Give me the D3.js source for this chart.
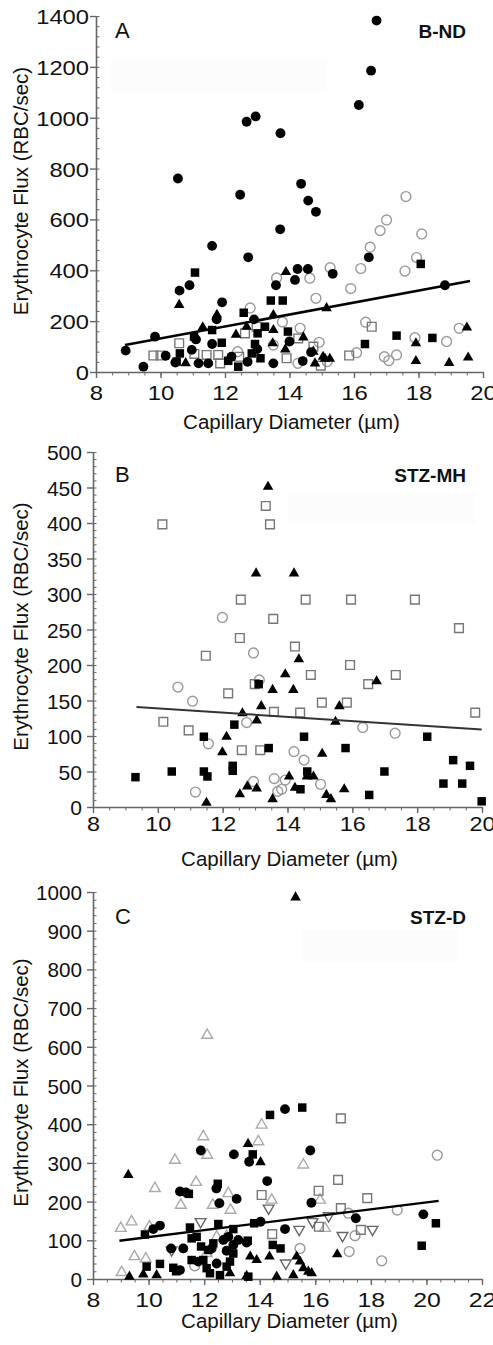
<!DOCTYPE html>
<html>
<head>
<meta charset="utf-8">
<script src="https://cdn.jsdelivr.net/npm/d3@7"></script>
<style>
  body { margin: 0; background: #fff; }
  svg text { font-family: "Liberation Sans", Arial, sans-serif; fill: #111; }
</style>
</head>
<body>
<div id="chart"></div>
<script>
// ---- data: [capillary diameter (um), flux (RBC/sec)] ----

// Panel A  (B-ND)
const A_filledCircles = [[8.92,84],[9.47,21],[9.83,139],[10.16,64],[10.46,37],[10.54,761],[10.59,320],[10.9,341],[10.97,87],[11.1,128],[11.18,34],[11.48,34],[11.6,110],[11.6,496],[11.74,207],[11.91,274],[12.2,60],[12.47,697],[12.67,984],[12.7,40],[12.72,451],[12.9,207],[12.95,1005],[13.0,90],[13.5,34],[13.58,341],[13.71,561],[13.72,939],[14.0,120],[14.17,362],[14.25,405],[14.36,740],[14.41,43],[14.57,405],[14.58,674],[14.67,78],[14.82,630],[15.34,386],[16.15,1050],[16.46,451],[16.53,1185],[16.7,1382],[18.82,341]];
const A_filledSquares = [[10.5,41],[10.6,73],[11.07,391],[11.04,139],[11.6,165],[11.9,115],[12.1,44],[12.41,21],[12.58,233],[12.83,73],[12.93,110],[13.01,152],[13.1,54],[13.24,178],[13.42,281],[13.79,281],[13.95,159],[16.34,110],[17.32,143],[18.07,425],[18.43,134]];
const A_filledTriangles = [[10.58,264],[10.78,35],[11.31,176],[11.75,225],[12.34,147],[12.67,178],[13.48,113],[13.5,224],[13.5,165],[13.87,89],[13.89,393],[14.43,136],[14.74,80],[14.79,34],[15.04,60],[15.15,251],[15.1,52],[15.25,52],[17.92,113],[17.92,43],[18.95,36],[19.5,175],[19.54,57]];
const A_openCircles = [[12.39,80],[12.78,252],[13.5,106],[13.6,370],[13.78,197],[14.26,34],[14.33,172],[14.63,369],[14.82,290],[14.92,117],[15.17,41],[15.26,410],[15.9,328],[16.08,76],[16.21,407],[16.36,196],[16.5,491],[16.81,556],[16.94,60],[17.01,598],[17.08,45],[17.32,67],[17.58,397],[17.61,690],[17.89,135],[17.94,450],[18.1,543],[18.87,120],[19.26,172]];
const A_openSquares = [[9.78,65],[10.0,65],[10.58,113],[11.05,71],[11.43,67],[11.79,67],[11.85,34],[12.44,60],[12.62,152],[12.98,178],[13.91,54],[14.27,132],[14.74,100],[14.97,25],[15.85,65],[16.55,178]];
const A_fit = { slope: 23.5, intercept: -103, from: 8.9, to: 19.6 };

// Panel B  (STZ-MH)
const B_filledSquares = [[9.31,42],[10.43,50],[11.42,99],[11.42,50],[11.53,43],[12.31,58],[12.31,51],[12.36,116],[13.11,173],[13.42,83],[14.4,25],[14.51,99],[14.61,50],[15.79,83],[16.52,17],[16.99,50],[18.31,99],[18.81,33],[19.11,66],[19.39,33],[19.63,58],[19.99,8]];
const B_filledTriangles = [[11.5,6],[11.99,77],[12.12,99],[12.53,18],[12.61,132],[12.76,29],[13.03,329],[13.05,26],[13.05,122],[13.19,142],[13.4,451],[13.54,11],[13.54,165],[13.93,187],[14.05,43],[14.18,165],[14.2,329],[14.23,27],[14.35,208],[14.6,43],[14.8,43],[15.07,75],[15.2,17],[15.34,11],[15.48,120],[15.6,142],[15.75,25],[16.75,177]];
const B_openSquares = [[10.14,398],[10.17,120],[10.95,108],[11.48,213],[12.17,160],[12.53,238],[12.56,292],[12.59,80],[12.99,173],[13.16,80],[13.33,424],[13.46,398],[13.56,265],[13.58,134],[14.23,226],[14.39,133],[14.56,292],[14.72,186],[15.06,147],[15.83,147],[15.93,200],[15.96,292],[16.49,173],[17.34,186],[17.93,292],[19.29,252],[19.79,133]];
const B_openCircles = [[10.62,169],[11.07,149],[11.16,21],[11.56,89],[11.99,267],[12.74,119],[12.95,217],[12.95,36],[13.13,179],[13.59,40],[13.7,22],[13.82,25],[13.93,38],[14.2,78],[14.51,66],[15.02,32],[16.32,112],[17.32,104]];
const B_fit = { slope: -3.0, intercept: 169, from: 9.34, to: 19.99 };

// Panel C  (STZ-D)
const C_filledCircles = [[10.17,129],[10.41,138],[10.81,79],[11.13,23],[11.13,226],[11.25,79],[11.34,224],[11.79,45],[11.88,332],[12.27,79],[12.44,234],[12.45,40],[12.55,196],[12.69,101],[12.81,73],[12.87,109],[13.05,88],[13.07,322],[13.17,207],[13.23,101],[13.53,94],[13.62,303],[14.03,148],[14.27,253],[14.91,439],[14.91,129],[15.82,332],[15.86,197],[17.46,157],[19.89,167]];
const C_filledSquares = [[9.87,115],[9.93,32],[10.41,39],[10.89,29],[10.99,20],[11.45,220],[11.49,133],[11.55,105],[11.55,49],[11.73,109],[11.89,84],[11.97,49],[12.09,28],[12.15,75],[12.21,15],[12.33,92],[12.49,246],[12.51,142],[12.57,10],[12.81,32],[12.93,45],[13.05,129],[13.05,66],[13.57,99],[13.59,6],[13.75,322],[13.8,144],[14.37,424],[14.47,88],[14.75,79],[15.53,443],[19.83,86],[20.34,144]];
const C_filledTriangles = [[9.27,269],[9.31,6],[9.81,12],[10.29,10],[12.93,15],[13.53,8],[13.58,349],[13.66,58],[13.89,49],[14.03,302],[14.35,58],[14.61,6],[15.21,10],[15.29,986],[15.33,58],[15.45,45],[15.57,28],[15.75,19],[15.87,15],[16.79,64]];
const C_openTriangles = [[9.0,131],[9.03,17],[9.39,148],[9.49,58],[9.9,52],[10.03,135],[10.23,234],[10.95,307],[11.16,191],[11.71,250],[11.97,368],[12.09,66],[12.11,320],[12.11,630],[12.31,191],[12.45,109],[12.81,111],[12.87,221],[12.95,178],[13.95,355],[14.07,398],[14.43,204],[15.57,295],[16.17,204],[16.35,131]];
const C_openSquares = [[14.07,217],[14.45,116],[16.13,135],[16.12,228],[16.82,256],[16.92,415],[16.92,183],[17.64,127],[17.87,209]];
const C_openCircles = [[11.66,34],[15.45,79],[17.19,170],[17.22,71],[17.43,112],[18.39,47],[18.95,178],[20.39,320]];
const C_invTriangles = [[10.83,75],[11.87,148],[14.32,183],[14.94,41],[15.42,128],[15.9,148],[16.48,163],[16.98,112],[18.06,128]];
const C_fit = { slope: 8.96, intercept: 18.8, from: 8.95, to: 20.44 };

// axis ticks
const xTicksAB = d3.range(8, 21, 2);
const xTicksC = d3.range(8, 23, 2);
const yTicksA = d3.range(0, 1401, 200);
const yTicksB = d3.range(0, 501, 50);
const yTicksC = d3.range(0, 1001, 100);

const svg = d3.select("#chart").append("svg")
  .attr("width", 493)
  .attr("height", 1345);

// marker styles
const styles = {
  filledCircle:   { type: d3.symbolCircle,   size: 76, fill: "#000", stroke: "none" },
  filledSquare:   { type: d3.symbolSquare,   size: 72, fill: "#000", stroke: "none" },
  filledTriangle: { type: d3.symbolTriangle, size: 48, fill: "#000", stroke: "none" },
  openCircle:     { type: d3.symbolCircle,   size: 76, fill: "none", stroke: "#999" },
  openSquare:     { type: d3.symbolSquare,   size: 76, fill: "none", stroke: "#777" },
  openTriangle:   { type: d3.symbolTriangle, size: 50, fill: "none", stroke: "#aaa" },
  invTriangle:    { type: d3.symbolTriangle, size: 50, fill: "none", stroke: "#666", rotate: 180 }
};

// stretch tick labels horizontally to the width each digit takes in the figure
function stretch(sel, perChar) {
  sel.each(function () {
    d3.select(this)
      .attr("textLength", this.textContent.length * perChar)
      .attr("lengthAdjust", "spacingAndGlyphs");
  });
}

function drawPanel(p) {
  const x = d3.scaleLinear().domain(p.xDomain).range([p.left, p.right]);
  const y = d3.scaleLinear().domain(p.yDomain).range([p.bottom, p.top]);
  const g = svg.append("g");

  // faint leftover box from the original figure
  g.append("rect")
    .attr("x", p.ghost[0]).attr("y", p.ghost[1])
    .attr("width", p.ghost[2]).attr("height", p.ghost[3])
    .attr("fill", "#fcfcfc");

  // minor ticks
  const xMinor = d3.range(p.xDomain[0], p.xDomain[1] + 0.01, 0.5);
  const yStep = (p.yTicks[1] - p.yTicks[0]) / 5;
  const yMinor = d3.range(p.yDomain[0], p.yDomain[1] + 0.01, yStep);

  g.append("g")
    .attr("transform", `translate(0,${p.bottom})`)
    .call(d3.axisBottom(x).tickValues(xMinor).tickSize(3.5).tickFormat(""))
    .call(s => s.select(".domain").remove())
    .selectAll("line").attr("stroke", "#666").attr("stroke-width", 1);

  g.append("g")
    .attr("transform", `translate(${p.left},0)`)
    .call(d3.axisLeft(y).tickValues(yMinor).tickSize(-3.5).tickFormat(""))
    .call(s => s.select(".domain").remove())
    .selectAll("line").attr("stroke", "#666").attr("stroke-width", 1);

  // major axes
  const xAxis = g.append("g")
    .attr("transform", `translate(0,${p.bottom})`)
    .call(d3.axisBottom(x).tickValues(p.xTicks).tickSize(6).tickSizeOuter(0).tickFormat(d3.format("d")));
  xAxis.select(".domain").attr("stroke", "#666").attr("stroke-width", 1.6);
  xAxis.selectAll("line").attr("stroke", "#666").attr("stroke-width", 1.4);
  xAxis.selectAll("text")
    .attr("y", p.xLabelGap).attr("dy", 0)
    .style("font-size", "21px").style("fill", "#111")
    .call(stretch, p.xChar);

  const yAxis = g.append("g")
    .attr("transform", `translate(${p.left},0)`)
    .call(d3.axisLeft(y).tickValues(p.yTicks).tickSize(6).tickSizeOuter(0).tickPadding(p.yPad).tickFormat(d3.format("d")));
  yAxis.select(".domain").attr("stroke", "#666").attr("stroke-width", 1.6);
  yAxis.selectAll("line").attr("stroke", "#666").attr("stroke-width", 1.4);
  yAxis.selectAll("text")
    .attr("dy", "0.36em")
    .style("font-size", "21px").style("fill", "#111")
    .call(stretch, p.yChar);

  // axis titles
  g.append("text")
    .attr("x", (p.left + p.right) / 2 + 2)
    .attr("y", p.xTitleY)
    .attr("text-anchor", "middle")
    .style("font-size", "20.5px")
    .text("Capillary Diameter (\u00b5m)");

  g.append("text")
    .attr("transform", "rotate(-90)")
    .attr("x", -(p.top + p.bottom) / 2 + 3)
    .attr("y", 28)
    .attr("text-anchor", "middle")
    .style("font-size", "20.5px")
    .text("Erythrocyte Flux (RBC/sec)");

  // panel letter and group name
  g.append("text")
    .attr("x", 115).attr("y", p.top + p.letterDy)
    .style("font-size", "22px")
    .text(p.letter);

  g.append("text")
    .attr("x", 466).attr("y", p.top + p.letterDy)
    .attr("text-anchor", "end")
    .style("font-size", "19px").style("font-weight", "bold")
    .text(p.group);

  // points
  p.series.forEach(s => {
    const st = styles[s.style];
    const sym = d3.symbol().type(st.type).size(st.size);
    g.append("g")
      .selectAll("path")
      .data(s.data)
      .enter()
      .append("path")
      .attr("d", sym)
      .attr("transform", d => `translate(${x(d[0])},${y(d[1])})` + (st.rotate ? ` rotate(${st.rotate})` : ""))
      .attr("fill", st.fill)
      .attr("stroke", st.stroke)
      .attr("stroke-width", st.stroke === "none" ? 0 : 1.4);
  });

  // regression line
  const f = p.fit;
  g.append("line")
    .attr("x1", x(f.from)).attr("y1", y(f.intercept + f.slope * f.from))
    .attr("x2", x(f.to)).attr("y2", y(f.intercept + f.slope * f.to))
    .attr("stroke", p.fitColor)
    .attr("stroke-width", p.fitWidth);
}

drawPanel({
  xDomain: [8, 20], yDomain: [0, 1400], xTicks: xTicksAB, yTicks: yTicksA,
  left: 96, right: 483, top: 16, bottom: 372,
  xLabelGap: 28, xTitleY: 429, yPad: 1, xChar: 13.3, yChar: 13.2,
  letter: "A", group: "B-ND", letterDy: 22,
  ghost: [111, 59, 216, 33],
  fit: A_fit, fitColor: "#000", fitWidth: 2.6,
  series: [
    { data: A_openCircles, style: "openCircle" },
    { data: A_openSquares, style: "openSquare" },
    { data: A_filledTriangles, style: "filledTriangle" },
    { data: A_filledSquares, style: "filledSquare" },
    { data: A_filledCircles, style: "filledCircle" }
  ]
});

drawPanel({
  xDomain: [8, 20], yDomain: [0, 500], xTicks: xTicksAB, yTicks: yTicksB,
  left: 93, right: 482, top: 452, bottom: 807,
  xLabelGap: 24, xTitleY: 866, yPad: 5, xChar: 13, yChar: 11.7,
  letter: "B", group: "STZ-MH", letterDy: 30,
  ghost: [288, 493, 187, 30],
  fit: B_fit, fitColor: "#333", fitWidth: 2,
  series: [
    { data: B_openCircles, style: "openCircle" },
    { data: B_openSquares, style: "openSquare" },
    { data: B_filledTriangles, style: "filledTriangle" },
    { data: B_filledSquares, style: "filledSquare" }
  ]
});

drawPanel({
  xDomain: [8, 22], yDomain: [0, 1000], xTicks: xTicksC, yTicks: yTicksC,
  left: 93, right: 482, top: 892, bottom: 1279,
  xLabelGap: 28, xTitleY: 1328, yPad: 5, xChar: 13.8, yChar: 11.5,
  letter: "C", group: "STZ-D", letterDy: 32,
  ghost: [302, 930, 156, 32],
  fit: C_fit, fitColor: "#000", fitWidth: 2.4,
  series: [
    { data: C_openTriangles, style: "openTriangle" },
    { data: C_openCircles, style: "openCircle" },
    { data: C_openSquares, style: "openSquare" },
    { data: C_invTriangles, style: "invTriangle" },
    { data: C_filledTriangles, style: "filledTriangle" },
    { data: C_filledSquares, style: "filledSquare" },
    { data: C_filledCircles, style: "filledCircle" }
  ]
});
</script>
</body>
</html>
